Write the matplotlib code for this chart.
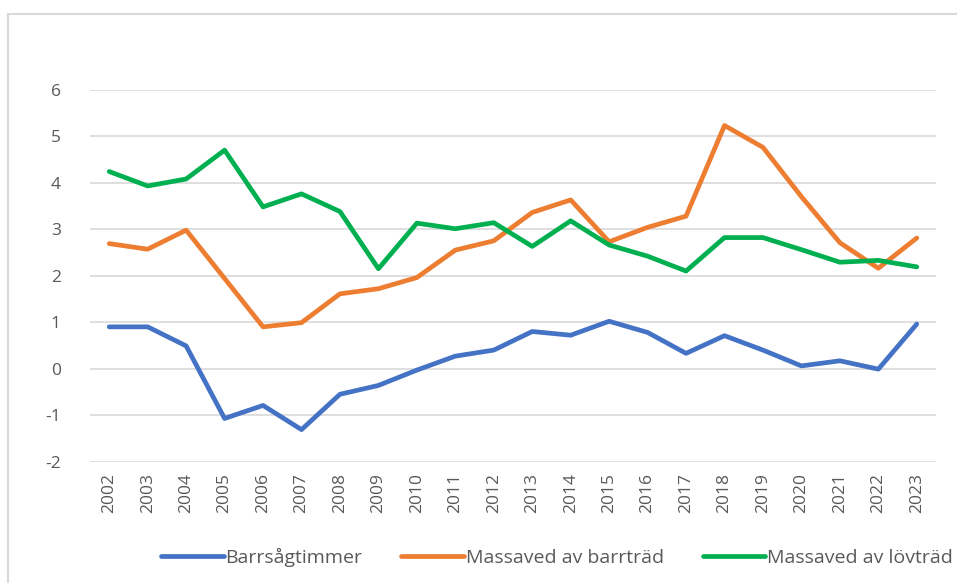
import numpy as np
import matplotlib.pyplot as plt
from matplotlib.lines import Line2D

years = [str(y) for y in range(2002, 2024)]

barrsagtimmer = [0.90, 0.90, 0.49, -1.07, -0.79, -1.31, -0.55, -0.36, -0.03, 0.27, 0.40,
                 0.80, 0.72, 1.02, 0.78, 0.33, 0.71, 0.40, 0.06, 0.17, -0.01, 0.96]
massaved_barr = [2.69, 2.57, 2.98, 1.94, 0.90, 0.99, 1.61, 1.72, 1.96, 2.55, 2.75,
                 3.36, 3.63, 2.73, 3.04, 3.28, 5.23, 4.76, 3.70, 2.71, 2.16, 2.81]
massaved_lov = [4.24, 3.93, 4.08, 4.70, 3.48, 3.76, 3.38, 2.15, 3.13, 3.01, 3.14,
                2.63, 3.18, 2.66, 2.42, 2.10, 2.82, 2.82, 2.56, 2.29, 2.33, 2.19]

labels = ['Barrsågtimmer', 'Massaved av barrträd', 'Massaved av lövträd']
colors = ['#4472C4', '#ED7D31', '#00B050']

plt.rcParams['font.family'] = ['Open Sans', 'DejaVu Sans']
plt.rcParams['axes.unicode_minus'] = False

dpi = 100
fig = plt.figure(figsize=(957 / dpi, 583 / dpi), dpi=dpi)
ax = fig.add_axes([90 / 957, 1 - 461.7 / 583, (936 - 90) / 957, (461.7 - 89.7) / 583])

x = np.arange(len(years))
for vals, lab, col in zip([barrsagtimmer, massaved_barr, massaved_lov], labels, colors):
    ax.plot(x, vals, color=col, lw=3.4, label=lab, solid_capstyle='round', solid_joinstyle='round', zorder=3)

ax.set_xlim(-0.5, len(years) - 0.5)
ax.set_ylim(-2, 6)
ax.set_yticks(range(-2, 7))
ax.set_xticks(x)
ax.set_xticklabels(years, rotation=90)
ax.yaxis.grid(True, color='#D9D9D9', lw=1.2, zorder=1)
ax.tick_params(axis='both', length=0, colors='#595959', labelsize=12.5)
ax.tick_params(axis='y', pad=21)
ax.tick_params(axis='x', pad=8)
for s in ax.spines.values():
    s.set_visible(False)

ax.legend(loc='center', bbox_to_anchor=(557 / 957, 1 - 557 / 583), bbox_transform=fig.transFigure,
          ncol=3, frameon=False, fontsize=14, handlelength=3.2, handletextpad=0.1,
          columnspacing=2.0, labelcolor='#595959')

# chart border
fig.add_artist(Line2D([8 / 957, 8 / 957], [0, 1 - 14 / 583], color='#D9D9D9', lw=1.5))
fig.add_artist(Line2D([8 / 957, 1], [1 - 14 / 583, 1 - 14 / 583], color='#D9D9D9', lw=1.5))

fig.savefig('out.png', dpi=dpi)
